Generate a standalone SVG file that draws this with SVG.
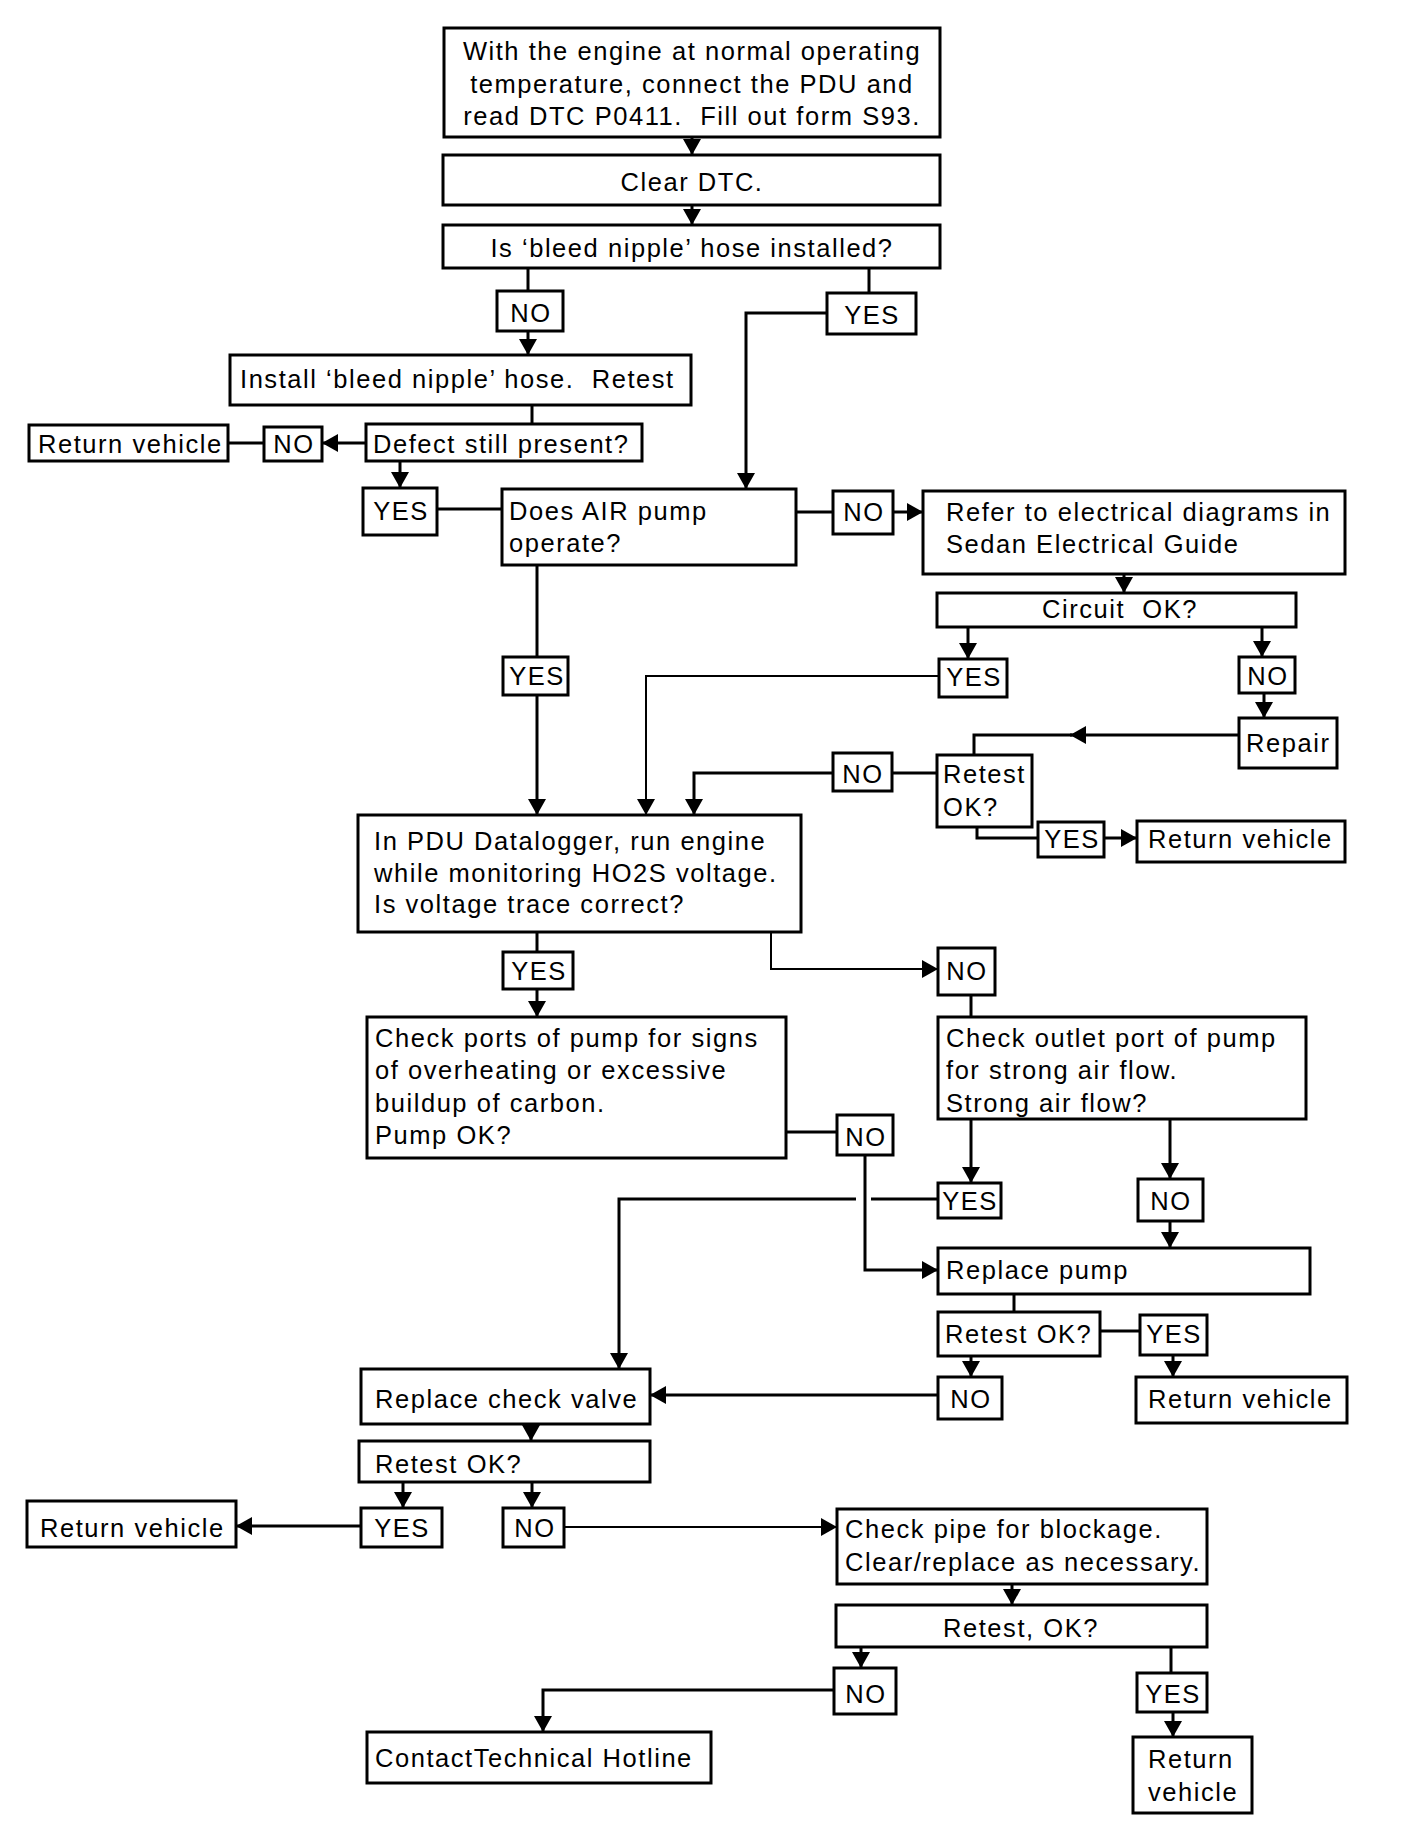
<svg xmlns="http://www.w3.org/2000/svg" width="1408" height="1830" viewBox="0 0 1408 1830">
<style>
.b{fill:#fff;stroke:#000;stroke-width:3}
.t{font-family:"Liberation Sans",Arial,sans-serif;font-size:25.5px;letter-spacing:1.55px;fill:#000;white-space:pre}
.m{text-anchor:middle}
.l{fill:none;stroke:#000;stroke-width:3}
.th{stroke-width:2}
.a{marker-end:url(#ah)}
</style>
<defs>
<marker id="ah" viewBox="0 0 16 18" refX="16" refY="9" markerWidth="16" markerHeight="18" markerUnits="userSpaceOnUse" orient="auto"><path d="M0,0 L16,9 L0,18 z" fill="#000"/></marker>
</defs>
<rect width="1408" height="1830" fill="#fff"/>
<g id="connectors">
<path class="l a" d="M692,137 V155"/>
<path class="l a" d="M692,205 V225"/>
<path class="l" d="M528,268 V291"/>
<path class="l a" d="M528,331 V355"/>
<path class="l" d="M869,268 V293"/>
<path class="l a" d="M827,313 H746 V489"/>
<path class="l" d="M532,405 V424"/>
<path class="l a" d="M366,443 H322"/>
<path class="l" d="M264,443 H228"/>
<path class="l a" d="M400,461 V488"/>
<path class="l" d="M437,509 H502"/>
<path class="l" d="M796,512 H833"/>
<path class="l a" d="M893,512 H923"/>
<path class="l a" d="M1124,574 V593"/>
<path class="l a" d="M968,627 V659"/>
<path class="l a" d="M1262,627 V657"/>
<path class="l a" d="M1264,693 V718"/>
<path class="l a" d="M1239,735 H1070"/>
<path class="l" d="M1072,735 H974 V755"/>
<path class="l" d="M937,773 H892"/>
<path class="l a" d="M833,773 H694 V815"/>
<path class="l th a" d="M939,676 H646 V815"/>
<path class="l" d="M537,565 V657"/>
<path class="l a" d="M537,695 V815"/>
<path class="l" d="M977,827 V838 H1038"/>
<path class="l a" d="M1104,838 H1137"/>
<path class="l" d="M537,932 V952"/>
<path class="l a" d="M537,989 V1017"/>
<path class="l th a" d="M771,932 V969 H938"/>
<path class="l" d="M971,995 V1017"/>
<path class="l" d="M786,1132 H837"/>
<path class="l a" d="M865,1155 V1270 H938"/>
<path class="l a" d="M971,1119 V1183"/>
<path class="l a" d="M1170,1119 V1179"/>
<path class="l a" d="M1170,1221 V1248"/>
<path class="l" d="M938,1199 H871"/>
<path class="l a" d="M856,1199 H619 V1369"/>
<path class="l" d="M1014,1294 V1312"/>
<path class="l" d="M1100,1331 H1140"/>
<path class="l a" d="M1173,1355 V1377"/>
<path class="l a" d="M971,1356 V1377"/>
<path class="l a" d="M938,1395 H650"/>
<path class="l a" d="M531,1424 V1441"/>
<path class="l a" d="M403,1482 V1508"/>
<path class="l a" d="M532,1482 V1508"/>
<path class="l a" d="M361,1526 H236"/>
<path class="l th a" d="M564,1527 H837"/>
<path class="l a" d="M1012,1584 V1605"/>
<path class="l a" d="M861,1647 V1668"/>
<path class="l a" d="M834,1690 H543 V1732"/>
<path class="l" d="M1171,1647 V1673"/>
<path class="l a" d="M1173,1712 V1737"/>
</g>
<g id="n-start"><rect class="b" x="444" y="28" width="496" height="109"/>
<text class="t m" x="692" y="60">With the engine at normal operating</text>
<text class="t m" x="692" y="93">temperature, connect the PDU and</text>
<text class="t m" x="692" y="125">read DTC P0411.  Fill out form S93.</text></g>
<g id="n-clear"><rect class="b" x="443" y="155" width="497" height="50"/><text class="t m" x="692" y="191">Clear DTC.</text></g>
<g id="n-bleed"><rect class="b" x="443" y="225" width="497" height="43"/><text class="t m" x="692" y="257">Is &#8216;bleed nipple&#8217; hose installed?</text></g>
<g id="n-no1"><rect class="b" x="497" y="291" width="66" height="40"/><text class="t m" x="531" y="322">NO</text></g>
<g id="n-yes1"><rect class="b" x="827" y="293" width="89" height="41"/><text class="t m" x="872" y="324">YES</text></g>
<g id="n-install"><rect class="b" x="230" y="355" width="461" height="50"/><text class="t" x="240" y="388">Install &#8216;bleed nipple&#8217; hose.  Retest</text></g>
<g id="n-defect"><rect class="b" x="366" y="424" width="276" height="37"/><text class="t" x="373" y="453">Defect still present?</text></g>
<g id="n-no2"><rect class="b" x="264" y="427" width="58" height="34"/><text class="t m" x="294" y="453">NO</text></g>
<g id="n-rv1"><rect class="b" x="29" y="425" width="199" height="36"/><text class="t" x="38" y="453">Return vehicle</text></g>
<g id="n-yes2"><rect class="b" x="363" y="488" width="74" height="47"/><text class="t m" x="401" y="520">YES</text></g>
<g id="n-air"><rect class="b" x="502" y="489" width="294" height="76"/><text class="t" x="509" y="520">Does AIR pump</text><text class="t" x="509" y="552">operate?</text></g>
<g id="n-no3"><rect class="b" x="833" y="491" width="60" height="43"/><text class="t m" x="864" y="521">NO</text></g>
<g id="n-refer"><rect class="b" x="923" y="491" width="422" height="83"/><text class="t" x="946" y="521">Refer to electrical diagrams in</text><text class="t" x="946" y="553">Sedan Electrical Guide</text></g>
<g id="n-circuit"><rect class="b" x="937" y="593" width="359" height="34"/><text class="t m" x="1120" y="618">Circuit  OK?</text></g>
<g id="n-yes3"><rect class="b" x="939" y="659" width="68" height="38"/><text class="t m" x="974" y="686">YES</text></g>
<g id="n-no4"><rect class="b" x="1239" y="657" width="56" height="36"/><text class="t m" x="1268" y="685">NO</text></g>
<g id="n-repair"><rect class="b" x="1239" y="718" width="98" height="50"/><text class="t" x="1246" y="752">Repair</text></g>
<g id="n-retest1"><rect class="b" x="937" y="755" width="95" height="72"/><text class="t" x="943" y="783">Retest</text><text class="t" x="943" y="816">OK?</text></g>
<g id="n-no5"><rect class="b" x="833" y="753" width="59" height="38"/><text class="t m" x="863" y="783">NO</text></g>
<g id="n-yes4"><rect class="b" x="1038" y="822" width="66" height="35"/><text class="t m" x="1072" y="848">YES</text></g>
<g id="n-rv2"><rect class="b" x="1137" y="821" width="208" height="41"/><text class="t" x="1148" y="848">Return vehicle</text></g>
<g id="n-yes5"><rect class="b" x="503" y="657" width="65" height="38"/><text class="t m" x="537" y="685">YES</text></g>
<g id="n-pdu"><rect class="b" x="358" y="815" width="443" height="117"/><text class="t" x="374" y="850">In PDU Datalogger, run engine</text><text class="t" x="374" y="882">while monitoring HO2S voltage.</text><text class="t" x="374" y="913">Is voltage trace correct?</text></g>
<g id="n-yes6"><rect class="b" x="503" y="952" width="70" height="37"/><text class="t m" x="539" y="980">YES</text></g>
<g id="n-no6"><rect class="b" x="938" y="948" width="57" height="47"/><text class="t m" x="967" y="980">NO</text></g>
<g id="n-ports"><rect class="b" x="367" y="1017" width="419" height="141"/><text class="t" x="375" y="1047">Check ports of pump for signs</text><text class="t" x="375" y="1079">of overheating or excessive</text><text class="t" x="375" y="1112">buildup of carbon.</text><text class="t" x="375" y="1144">Pump OK?</text></g>
<g id="n-outlet"><rect class="b" x="938" y="1017" width="368" height="102"/><text class="t" x="946" y="1047">Check outlet port of pump</text><text class="t" x="946" y="1079">for strong air flow.</text><text class="t" x="946" y="1112">Strong air flow?</text></g>
<g id="n-no7"><rect class="b" x="837" y="1115" width="56" height="40"/><text class="t m" x="866" y="1146">NO</text></g>
<g id="n-yes7"><rect class="b" x="938" y="1183" width="63" height="35"/><text class="t m" x="970" y="1210">YES</text></g>
<g id="n-no8"><rect class="b" x="1138" y="1179" width="65" height="42"/><text class="t m" x="1171" y="1210">NO</text></g>
<g id="n-pump"><rect class="b" x="938" y="1248" width="372" height="46"/><text class="t" x="946" y="1279">Replace pump</text></g>
<g id="n-retest2"><rect class="b" x="938" y="1312" width="162" height="44"/><text class="t" x="945" y="1343">Retest OK?</text></g>
<g id="n-yes8"><rect class="b" x="1140" y="1315" width="67" height="40"/><text class="t m" x="1174" y="1343">YES</text></g>
<g id="n-no9"><rect class="b" x="938" y="1377" width="64" height="42"/><text class="t m" x="971" y="1408">NO</text></g>
<g id="n-rv3"><rect class="b" x="1136" y="1377" width="211" height="46"/><text class="t" x="1148" y="1408">Return vehicle</text></g>
<g id="n-valve"><rect class="b" x="361" y="1369" width="289" height="55"/><text class="t" x="375" y="1408">Replace check valve</text></g>
<g id="n-retest3"><rect class="b" x="359" y="1441" width="291" height="41"/><text class="t" x="375" y="1473">Retest OK?</text></g>
<g id="n-yes9"><rect class="b" x="361" y="1508" width="81" height="39"/><text class="t m" x="402" y="1537">YES</text></g>
<g id="n-no10"><rect class="b" x="503" y="1508" width="61" height="39"/><text class="t m" x="535" y="1537">NO</text></g>
<g id="n-rv4"><rect class="b" x="27" y="1501" width="209" height="46"/><text class="t" x="40" y="1537">Return vehicle</text></g>
<g id="n-pipe"><rect class="b" x="837" y="1509" width="370" height="75"/><text class="t" x="845" y="1538">Check pipe for blockage.</text><text class="t" x="845" y="1571">Clear/replace as necessary.</text></g>
<g id="n-retest4"><rect class="b" x="836" y="1605" width="371" height="42"/><text class="t m" x="1021" y="1637">Retest, OK?</text></g>
<g id="n-no11"><rect class="b" x="834" y="1668" width="62" height="46"/><text class="t m" x="866" y="1703">NO</text></g>
<g id="n-yes10"><rect class="b" x="1137" y="1673" width="70" height="39"/><text class="t m" x="1173" y="1703">YES</text></g>
<g id="n-contact"><rect class="b" x="367" y="1732" width="344" height="51"/><text class="t" x="375" y="1767">ContactTechnical Hotline</text></g>
<g id="n-rv5"><rect class="b" x="1133" y="1737" width="119" height="76"/><text class="t" x="1148" y="1768">Return</text><text class="t" x="1148" y="1801">vehicle</text></g>
</svg>
